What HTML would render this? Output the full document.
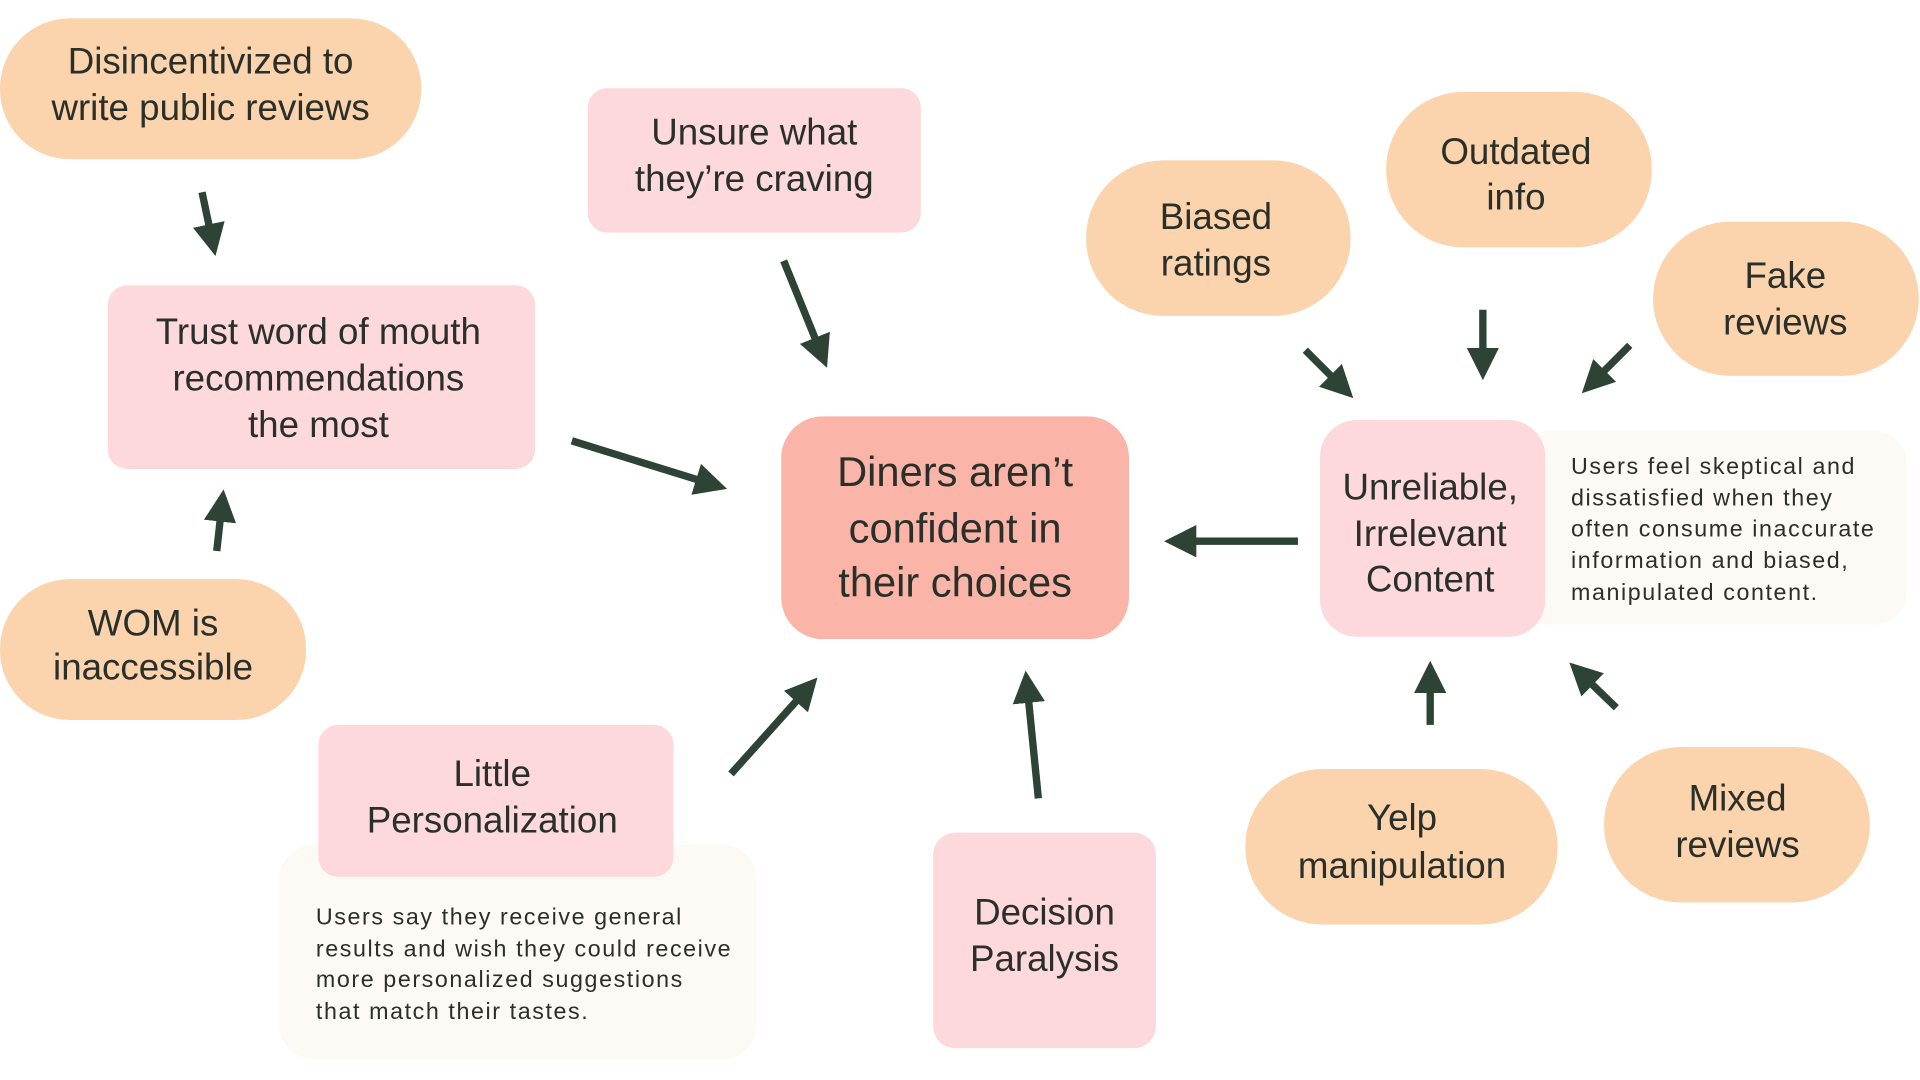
<!DOCTYPE html>
<html><head><meta charset="utf-8"><style>
html,body{margin:0;padding:0;background:#fff;width:1920px;height:1080px;overflow:hidden}
svg{display:block}
.h{font-family:"Liberation Sans",sans-serif;fill:#2a2f2a;text-anchor:middle}
.s{font-family:"Liberation Sans",sans-serif;fill:#2a2f2a;font-size:19px;letter-spacing:1.3px}
</style></head><body>
<svg width="1920" height="1080" viewBox="0 0 1568 882" xmlns="http://www.w3.org/2000/svg">
<defs><marker id="a" markerWidth="4.4" markerHeight="4.4" refX="2" refY="2.2" orient="auto" markerUnits="strokeWidth"><path d="M0,0 L4.4,2.2 L0,4.4 Z" fill="#2d4336"/></marker></defs>
<g fill="#fbd3ac">
<rect x="0" y="15" width="344" height="115" rx="57"/>
<rect x="0" y="473" width="250" height="115" rx="57"/>
<rect x="887" y="131" width="216" height="127" rx="63"/>
<rect x="1132" y="75" width="217" height="127" rx="63"/>
<rect x="1350" y="181" width="217" height="126" rx="63"/>
<rect x="1017" y="628" width="255" height="127" rx="63"/>
<rect x="1310" y="610" width="217" height="127" rx="63"/>
</g>
<rect x="228" y="690" width="390" height="175" rx="28" fill="#fdf9f4"/>
<rect x="1240" y="352" width="317" height="158" rx="26" fill="#fdf9f4"/>
<g fill="#fdd9de">
<rect x="88" y="233" width="349" height="150" rx="16"/>
<rect x="480" y="72" width="272" height="118" rx="16"/>
<rect x="260" y="592" width="290" height="124" rx="16"/>
<rect x="762" y="680" width="182" height="176" rx="18"/>
<rect x="1078" y="343" width="184" height="177" rx="30"/>
</g>
<rect x="638" y="340" width="284" height="182" rx="34" fill="#fbb4a8"/>
<g stroke="#2d4336" stroke-width="6" fill="none" marker-end="url(#a)">
<line x1="165" y1="157" x2="173" y2="195"/>
<line x1="177" y1="450" x2="181" y2="414"/>
<line x1="640" y1="213" x2="670" y2="287"/>
<line x1="467" y1="360" x2="580" y2="395"/>
<line x1="597" y1="632" x2="658" y2="564"/>
<line x1="848" y1="652" x2="839" y2="562"/>
<line x1="1066" y1="286" x2="1095" y2="315"/>
<line x1="1211" y1="253" x2="1211" y2="296"/>
<line x1="1331" y1="282" x2="1302" y2="311"/>
<line x1="1060" y1="442" x2="965" y2="442"/>
<line x1="1168" y1="592" x2="1168" y2="554"/>
<line x1="1320" y1="578" x2="1292" y2="551"/>
</g>
<g class="h" font-size="30">
<text x="172" y="60">Disincentivized to</text>
<text x="172" y="98">write public reviews</text>
<text x="260" y="281">Trust word of mouth</text>
<text x="260" y="319">recommendations</text>
<text x="260" y="357">the most</text>
<text x="125" y="519">WOM is</text>
<text x="125" y="555">inaccessible</text>
<text x="616" y="118">Unsure what</text>
<text x="616" y="156">they’re craving</text>
<text x="402" y="642">Little</text>
<text x="402" y="680">Personalization</text>
<text x="853" y="755">Decision</text>
<text x="853" y="793">Paralysis</text>
<text x="993" y="187">Biased</text>
<text x="993" y="225">ratings</text>
<text x="1238" y="134">Outdated</text>
<text x="1238" y="171">info</text>
<text x="1458" y="235">Fake</text>
<text x="1458" y="273">reviews</text>
<text x="1168" y="408">Unreliable,</text>
<text x="1168" y="446">Irrelevant</text>
<text x="1168" y="483">Content</text>
<text x="1145" y="678">Yelp</text>
<text x="1145" y="717">manipulation</text>
<text x="1419" y="662">Mixed</text>
<text x="1419" y="700">reviews</text>
</g>
<g class="h" font-size="34">
<text x="780" y="397">Diners aren’t</text>
<text x="780" y="443">confident in</text>
<text x="780" y="487">their choices</text>
</g>
<g class="s">
<text x="258" y="755">Users say they receive general</text>
<text x="258" y="781">results and wish they could receive</text>
<text x="258" y="806">more personalized suggestions</text>
<text x="258" y="832">that match their tastes.</text>
<text x="1283" y="387">Users feel skeptical and</text>
<text x="1283" y="413">dissatisfied when they</text>
<text x="1283" y="438">often consume inaccurate</text>
<text x="1283" y="464">information and biased,</text>
<text x="1283" y="490">manipulated content.</text>
</g>
</svg>
</body></html>
